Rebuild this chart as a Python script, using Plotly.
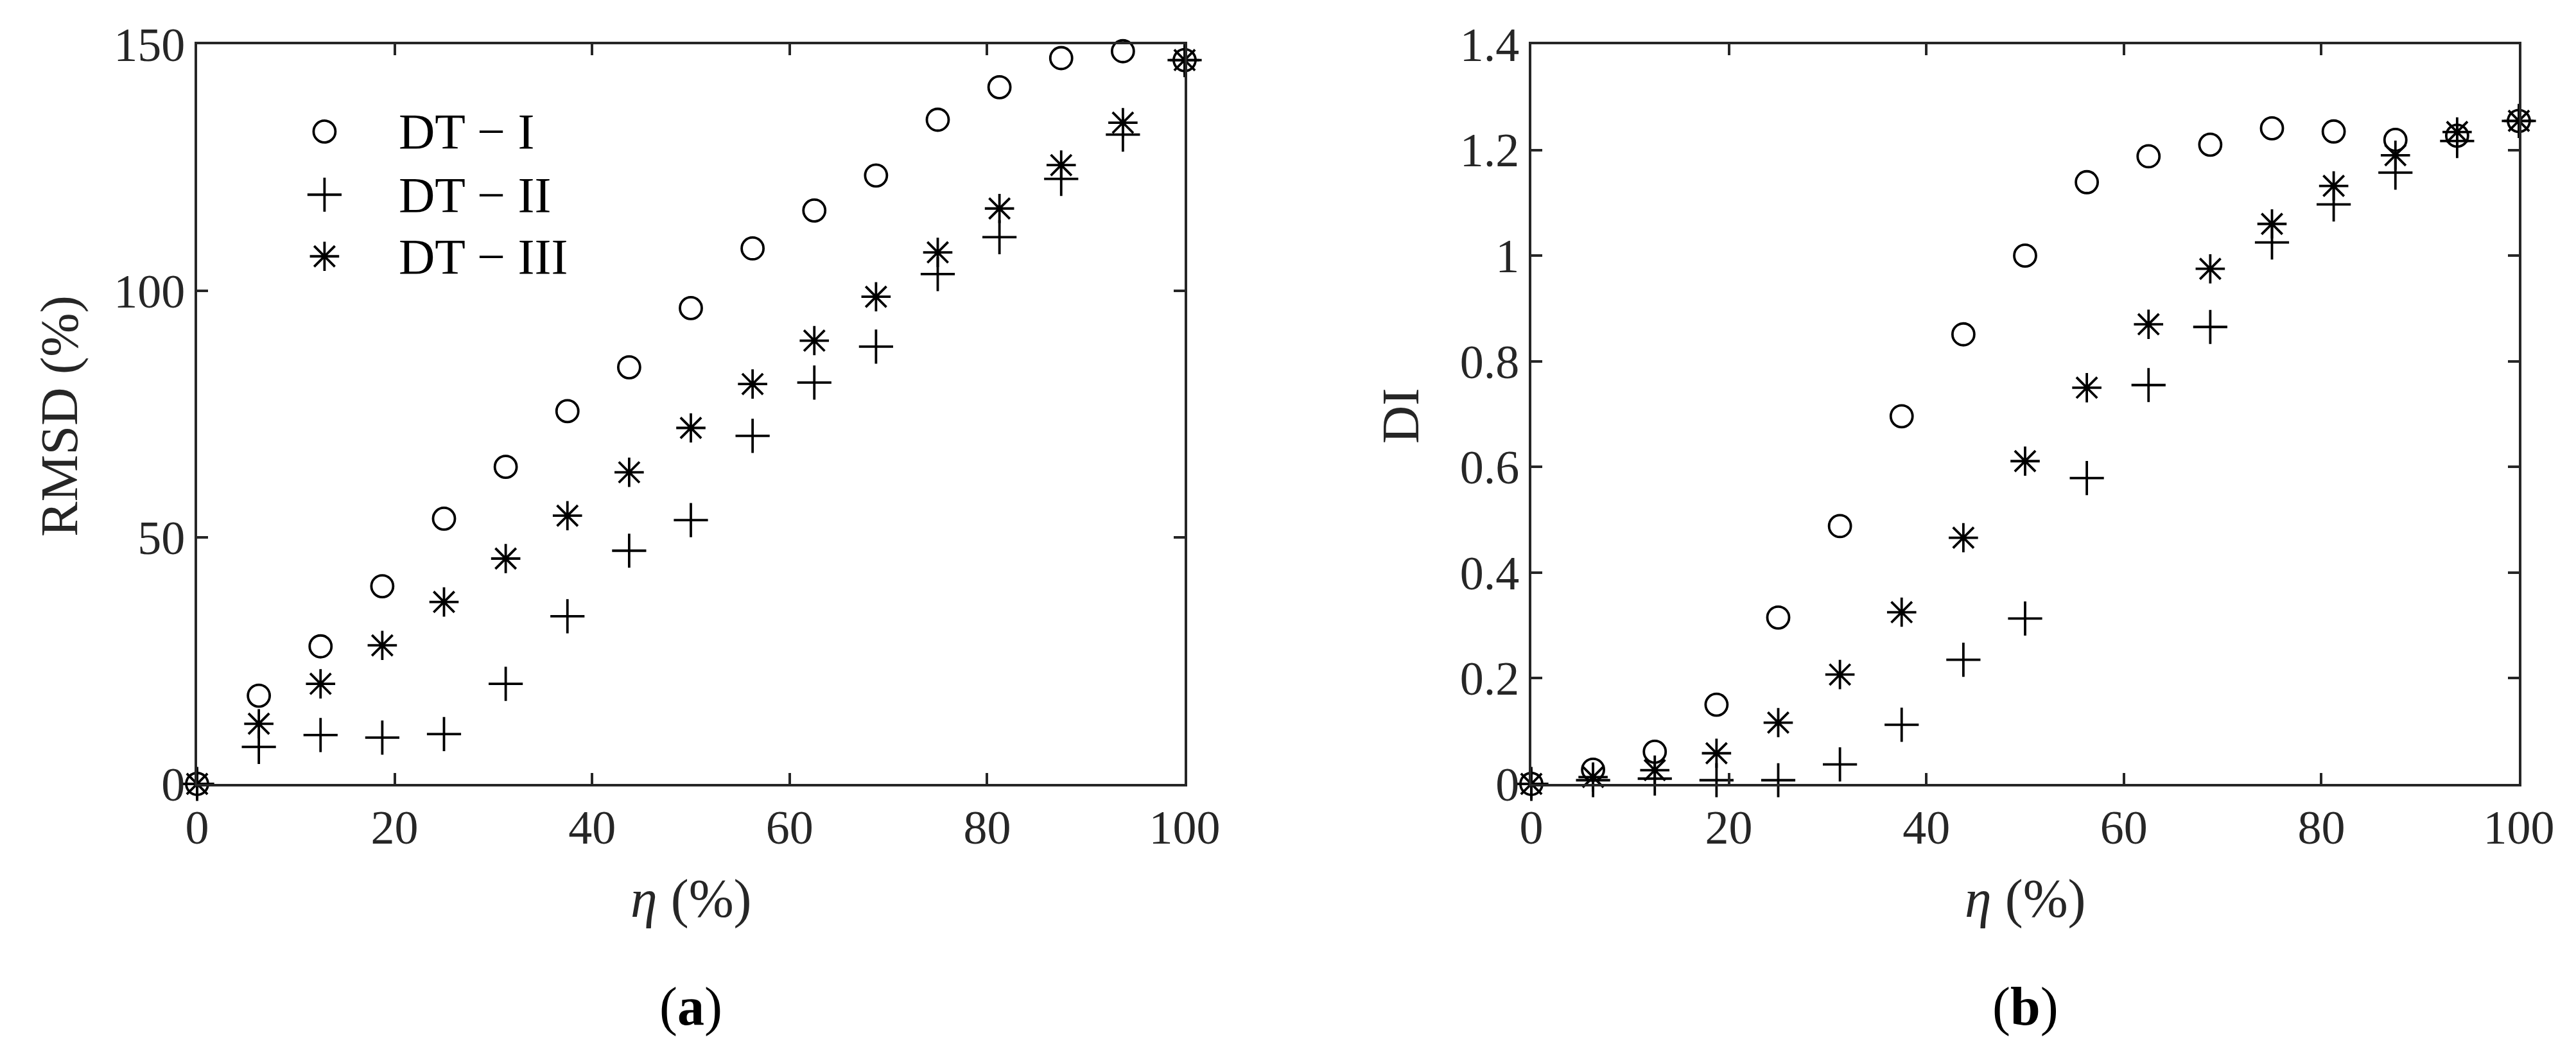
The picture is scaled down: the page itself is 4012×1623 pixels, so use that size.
import plotly.graph_objects as go

# ---------------- data ----------------
eta = [0, 6.25, 12.5, 18.75, 25, 31.25, 37.5, 43.75, 50, 56.25, 62.5, 68.75, 75, 81.25, 87.5, 93.75, 100]

rmsd_dt1 = [0, 17.9, 27.9, 40.1, 53.8, 64.3, 75.6, 84.5, 96.5, 108.6, 116.3, 123.4, 134.7, 141.3, 147.2, 148.6, 146.8]
rmsd_dt2 = [0, 7.5, 9.9, 9.4, 10.1, 20.3, 34.0, 47.3, 53.5, 70.6, 81.4, 88.7, 103.4, 110.9, 122.7, 131.7, 146.8]
rmsd_dt3 = [0, 12.2, 20.3, 28.1, 36.9, 45.7, 54.4, 63.2, 72.2, 81.1, 89.9, 98.8, 107.8, 116.7, 125.5, 134.1, 146.8]

di_dt1 = [0, 0.027, 0.061, 0.150, 0.315, 0.488, 0.696, 0.851, 1.000, 1.139, 1.188, 1.210, 1.241, 1.235, 1.219, 1.227, 1.255]
di_dt2 = [0, 0.007, 0.010, 0.007, 0.007, 0.037, 0.112, 0.235, 0.313, 0.579, 0.755, 0.865, 1.025, 1.097, 1.157, 1.217, 1.255]
di_dt3 = [0, 0.013, 0.026, 0.058, 0.116, 0.207, 0.325, 0.466, 0.611, 0.750, 0.870, 0.975, 1.060, 1.132, 1.190, 1.234, 1.255]

series_names = ["DT − I", "DT − II", "DT − III"]
x_ticks = [0, 20, 40, 60, 80, 100]
y1_ticks = [0, 50, 100, 150]
y2_ticks = [0, 0.2, 0.4, 0.6, 0.8, 1.0, 1.2, 1.4]
y2_ticklabels = ["0", "0.2", "0.4", "0.6", "0.8", "1", "1.2", "1.4"]

# legend placement (in panel (a) data units)
legend_icon_x = 12.9
legend_text_x = 20.3
legend_rows_y = [132.3, 119.5, 107.0]

# ---------------- style ----------------
W, H = 4012, 1623
FONT = "Liberation Serif"
AX = "#262626"
INK = "black"
symbols = ["circle-open", "cross-thin-open", "asterisk-open"]
sizes = [34, 38, 38]
LW = 3.8

def px_x(p):
    return p / W

def px_y(p):
    return 1 - p / H

fig = go.Figure()

for ys, xa, ya in [([rmsd_dt1, rmsd_dt2, rmsd_dt3], "x", "y"), ([di_dt1, di_dt2, di_dt3], "x2", "y2")]:
    for i, y in enumerate(ys):
        fig.add_trace(go.Scatter(
            x=eta, y=y, mode="markers", name=series_names[i], xaxis=xa, yaxis=ya,
            showlegend=False, cliponaxis=False,
            marker=dict(symbol=symbols[i], size=sizes[i], color=INK, line=dict(width=LW, color=INK)),
        ))

# legend icons
for i in range(3):
    fig.add_trace(go.Scatter(
        x=[legend_icon_x], y=[legend_rows_y[i]], mode="markers", xaxis="x", yaxis="y",
        showlegend=False, hoverinfo="skip",
        marker=dict(symbol=symbols[i], size=sizes[i], color=INK, line=dict(width=LW, color=INK)),
    ))

axis_common = dict(
    showline=True, linewidth=4, linecolor=AX, mirror="allticks",
    ticks="inside", ticklen=17, tickwidth=4, tickcolor=AX,
    showgrid=False, zeroline=False, automargin=False,
    tickfont=dict(family=FONT, size=74, color=AX),
)

x1_dom = [px_x(299), px_x(1837)]
x2_dom = [px_x(2377), px_x(3915)]
y_dom = [px_y(1213), px_y(61)]

fig.update_layout(
    width=W, height=H,
    margin=dict(l=0, r=0, t=0, b=0),
    paper_bgcolor="white", plot_bgcolor="white",
    showlegend=False,
    xaxis=dict(domain=x1_dom, range=[0, 100], tickvals=x_ticks, anchor="y", **axis_common),
    yaxis=dict(domain=y_dom, range=[0, 150], tickvals=y1_ticks, anchor="x", **axis_common),
    xaxis2=dict(domain=x2_dom, range=[0, 100], tickvals=x_ticks, anchor="y2", **axis_common),
    yaxis2=dict(domain=y_dom, range=[0, 1.4], tickvals=y2_ticks, ticktext=y2_ticklabels, anchor="x2", **axis_common),
)

annots = []
# legend texts
for i in range(3):
    annots.append(dict(x=legend_text_x, y=legend_rows_y[i], xref="x", yref="y", text=series_names[i],
                       showarrow=False, xanchor="left", yanchor="middle",
                       font=dict(family=FONT, size=78, color=INK)))
# axis titles
annots.append(dict(x=px_x(84), y=px_y(640), xref="paper", yref="paper", text="RMSD (%)", textangle=-90,
                   showarrow=False, xanchor="center", yanchor="middle", font=dict(family=FONT, size=82, color=AX)))
annots.append(dict(x=px_x(2173), y=px_y(640), xref="paper", yref="paper", text="DI", textangle=-90,
                   showarrow=False, xanchor="center", yanchor="middle", font=dict(family=FONT, size=82, color=AX)))
for cx in [1068, 3146]:
    annots.append(dict(x=px_x(cx), y=px_y(1392), xref="paper", yref="paper", text="<i>η</i> (%)",
                       showarrow=False, xanchor="center", yanchor="middle", font=dict(family=FONT, size=84, color=AX)))
for cx, lab in [(1068, "(<b>a</b>)"), (3146, "(<b>b</b>)")]:
    annots.append(dict(x=px_x(cx), y=px_y(1560), xref="paper", yref="paper", text=lab,
                       showarrow=False, xanchor="center", yanchor="middle", font=dict(family=FONT, size=84, color=INK)))
fig.update_layout(annotations=annots)

fig.write_html("out.html")
